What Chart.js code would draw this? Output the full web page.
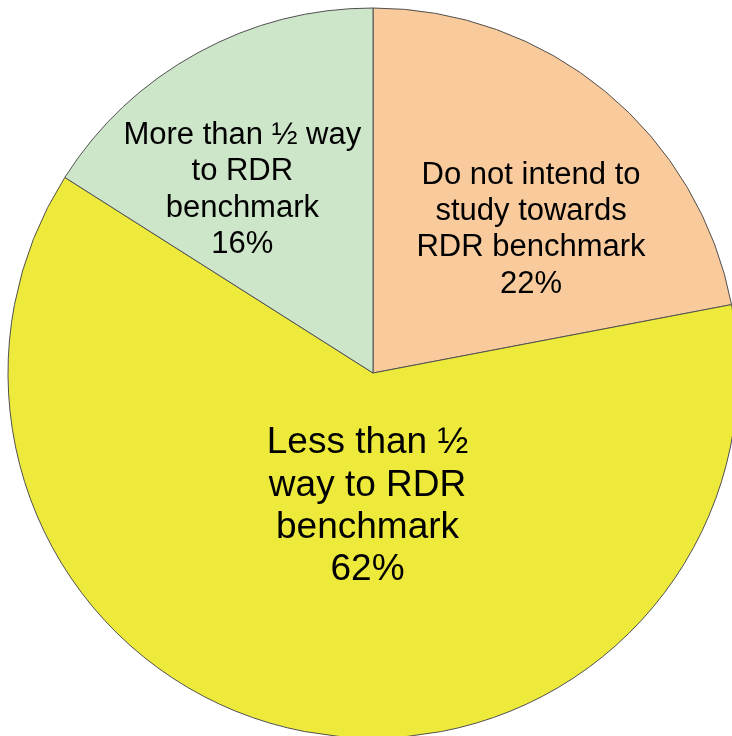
<!DOCTYPE html>
<html>
<head>
<meta charset="utf-8">
<title>RDR benchmark progress</title>
<script src="https://cdn.jsdelivr.net/npm/chart.js@4/dist/chart.umd.min.js"></script>
<style>
  html, body { margin: 0; padding: 0; background: #fff; }
  body { width: 732px; height: 736px; overflow: hidden; position: relative; }
  #wrap { position: absolute; left: 0; top: 0; width: 746px; height: 746px; }
</style>
</head>
<body>
<div id="wrap"><canvas id="pie"></canvas></div>
<script>
// slices run clockwise from 12 o'clock
const categories = [
  ['Do not intend to', 'study towards', 'RDR benchmark'],
  ['Less than \u00bd', 'way to RDR', 'benchmark'],
  ['More than \u00bd way', 'to RDR', 'benchmark']
];
const shares = [22, 62, 16];
const sliceColors = ['#F9CB9C', '#EEEA3B', '#CDE5C8'];

// label placement per slice, as fractions of the radius from the centre
const labelStyle = [
  { dx: 0.433, dy: -0.400, size: 31, lineHeight: 36.3 },
  { dx: -0.015, dy: 0.358, size: 37, lineHeight: 42.3 },
  { dx: -0.358, dy: -0.508, size: 31, lineHeight: 36.5 }
];

const sliceLabels = {
  id: 'sliceLabels',
  afterDatasetsDraw(chart) {
    const ctx = chart.ctx;
    const arcs = chart.getDatasetMeta(0).data;
    ctx.save();
    ctx.fillStyle = '#000';
    ctx.textAlign = 'center';
    ctx.textBaseline = 'alphabetic';
    arcs.forEach((arc, i) => {
      const st = labelStyle[i];
      const r = arc.outerRadius;
      const cx = arc.x + st.dx * r;
      const cy = arc.y + st.dy * r;
      const lines = categories[i].concat([shares[i] + '%']);
      ctx.font = st.size + 'px "Liberation Sans", Arial, sans-serif';
      const capH = st.size * 0.716;
      const first = cy - (lines.length - 1) * st.lineHeight / 2 + capH / 2;
      lines.forEach((t, k) => ctx.fillText(t, cx, first + k * st.lineHeight));
    });
    ctx.restore();
  }
};

new Chart(document.getElementById('pie'), {
  type: 'pie',
  data: {
    labels: categories.map(c => c.join(' ')),
    datasets: [{
      data: shares,
      backgroundColor: sliceColors,
      borderColor: '#505050',
      borderWidth: 1,
      radius: 365
    }]
  },
  options: {
    responsive: true,
    maintainAspectRatio: false,
    animation: false,
    events: [],
    layout: { padding: 0 },
    plugins: {
      legend: { display: false },
      tooltip: { enabled: false }
    }
  },
  plugins: [sliceLabels]
});
</script>
</body>
</html>
